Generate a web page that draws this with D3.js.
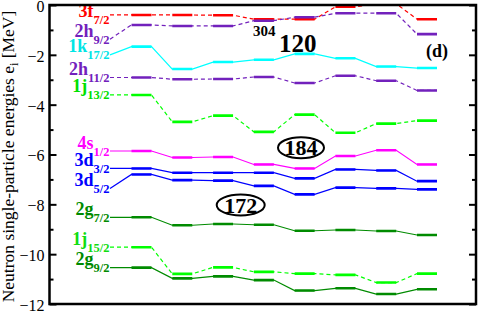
<!DOCTYPE html>
<html>
<head>
<meta charset="utf-8">
<script src="https://cdn.jsdelivr.net/npm/d3@7"></script>
<style>
body { margin: 0; background: #fff; }
svg { display: block; }
text { font-family: "Liberation Serif", "Times New Roman", serif; }
</style>
</head>
<body>
<div id="chart"></div>
<script>
var width = 480,
    height = 312;

// calculation columns (no x labels in the figure)
var columns = [1, 2, 3, 4, 5, 6, 7, 8];

// orbital labels
var orbitals = ['3f', '2h', '1k', '2h', '1j', '4s', '3d', '3d', '2g', '1j', '2g'];
var spins = ['7/2', '9/2', '17/2', '11/2', '13/2', '1/2', '3/2', '5/2', '7/2', '15/2', '9/2'];
// energy where each label's connector starts
var labelEnergies = [-0.40, -1.37, -2.00, -2.91, -3.61, -5.86, -6.56, -7.36, -8.52, -9.72, -10.54];

// single-particle energies (MeV), one value per column
var e3f7 = [-0.40, -0.40, -0.41, -0.57, -0.57, -0.07, 0.05, -0.57];
var e2h9 = [-0.80, -0.84, -0.84, -0.63, -0.49, -0.33, -0.33, -1.17];
var e1k17 = [-1.67, -2.57, -2.29, -2.20, -1.96, -2.14, -2.47, -2.53];
var e2h11 = [-2.91, -2.98, -2.97, -2.89, -3.13, -2.84, -3.04, -3.43];
var e1j13 = [-3.61, -4.69, -4.44, -5.09, -4.40, -5.13, -4.76, -4.64];
var e4s1 = [-5.86, -6.12, -6.10, -6.40, -6.56, -6.06, -5.83, -6.40];
var e3d3 = [-6.56, -6.73, -6.73, -6.73, -6.96, -6.60, -6.64, -7.07];
var e3d5 = [-6.80, -7.03, -7.05, -7.26, -7.60, -7.33, -7.36, -7.40];
var e2g7 = [-8.52, -8.84, -8.79, -8.82, -9.06, -9.03, -9.07, -9.23];
var e1j15 = [-9.72, -10.79, -10.53, -10.71, -10.78, -10.83, -11.14, -10.78];
var e2g9 = [-10.54, -10.97, -10.89, -11.04, -11.46, -11.37, -11.60, -11.41];

var levels = [e3f7, e2h9, e1k17, e2h11, e1j13, e4s1, e3d3, e3d5, e2g7, e1j15, e2g9];

var yTicks = [-12, -10, -8, -6, -4, -2, 0];
var yMinor = [-11, -9, -7, -5, -3, -1];

// styles
var colors = ['#ff0000', '#7221bc', '#00ffff', '#7221bc', '#00ff00', '#ff00ff',
              '#0000ff', '#0000ff', '#008b00', '#00ff00', '#008b00'];
var textColors = ['#ff0000', '#7221bc', '#00e5e5', '#7221bc', '#00e000', '#ff00ff',
                  '#0000ff', '#0000ff', '#008b00', '#10dd10', '#008b00'];
var dashed = [true, true, false, true, true, false, false, false, false, true, false];
var textNudge = [5, 0, 0, 0, 0, 0, 0, 0, 0, 0, 0];

var plotLeft = 49.5, plotRight = 476, plotTop = 5, plotBottom = 304;
var half = 10;   // half width of a level bar
var labelEnd = 110;

var x = d3.scaleLinear().domain([1, 8]).range([141.5, 427]);
var y = d3.scaleLinear().domain([-12, 0]).range([plotBottom, plotTop]);

var svg = d3.select('#chart').append('svg')
    .attr('width', width)
    .attr('height', height);

svg.append('clipPath').attr('id', 'plot-clip')
    .append('rect')
    .attr('x', plotLeft).attr('y', plotTop)
    .attr('width', plotRight - plotLeft).attr('height', plotBottom - plotTop);

var plot = svg.append('g').attr('clip-path', 'url(#plot-clip)');

levels.forEach(function(level, i) {
    var pts = [[labelEnd, y(labelEnergies[i])]];
    columns.forEach(function(c, j) {
        pts.push([x(c) - half, y(level[j])]);
        pts.push([x(c) + half, y(level[j])]);
    });

    plot.append('path')
        .attr('d', d3.line()(pts))
        .attr('fill', 'none')
        .attr('stroke', colors[i])
        .attr('stroke-width', 1.2)
        .attr('stroke-dasharray', dashed[i] ? '4,3' : null);

    plot.selectAll('.bar-' + i)
        .data(columns)
        .enter()
        .append('line')
        .attr('class', 'bar-' + i)
        .attr('x1', function(c) { return x(c) - half; })
        .attr('x2', function(c) { return x(c) + half; })
        .attr('y1', function(c, j) { return y(level[j]); })
        .attr('y2', function(c, j) { return y(level[j]); })
        .attr('stroke', colors[i])
        .attr('stroke-width', 2.6);
});

// orbital labels
levels.forEach(function(level, i) {
    var t = svg.append('text')
        .attr('x', labelEnd - 0.5)
        .attr('y', y(labelEnergies[i]) - 2.5 + textNudge[i])
        .attr('text-anchor', 'end')
        .attr('font-weight', 'bold')
        .attr('fill', textColors[i]);
    t.append('tspan').attr('font-size', 18).text(orbitals[i]);
    t.append('tspan').attr('font-size', 12.5).attr('dy', 7).text(spins[i]);
});

// axes
var gl = svg.append('g').attr('transform', 'translate(' + plotLeft + ',0)');
gl.call(d3.axisLeft(y).tickValues(yTicks).tickSize(-7).tickSizeOuter(0).tickPadding(5)
    .tickFormat(d3.format('d')));
gl.append('g').call(d3.axisLeft(y).tickValues(yMinor).tickSize(-4).tickSizeOuter(0).tickFormat(''));

var gr = svg.append('g').attr('transform', 'translate(' + plotRight + ',0)');
gr.call(d3.axisRight(y).tickValues(yTicks).tickSize(-7).tickSizeOuter(0).tickFormat(''));
gr.append('g').call(d3.axisRight(y).tickValues(yMinor).tickSize(-4).tickSizeOuter(0).tickFormat(''));

svg.selectAll('.domain').remove();
svg.selectAll('.tick line').attr('stroke', '#000').attr('stroke-width', 2);
gl.selectAll('.tick text')
    .attr('font-size', 16)
    .attr('dy', '0.4em')
    .attr('font-family', '"Liberation Serif", serif')
    .attr('fill', '#000');

svg.append('rect')
    .attr('x', plotLeft).attr('y', plotTop)
    .attr('width', plotRight - plotLeft).attr('height', plotBottom - plotTop)
    .attr('fill', 'none')
    .attr('stroke', '#000')
    .attr('stroke-width', 2.5);

// y title
var title = svg.append('text')
    .attr('transform', 'translate(13.5,' + ((plotTop + plotBottom) / 2 + 2) + ') rotate(-90)')
    .attr('text-anchor', 'middle')
    .attr('font-size', 17.5)
    .attr('fill', '#000');
title.append('tspan').text('Neutron single-particle energies e');
title.append('tspan').attr('font-size', 12).attr('dy', 4).text('i');
title.append('tspan').attr('dy', -4).text(' [MeV]');

// annotations
svg.append('text').attr('x', 253).attr('y', 36)
    .attr('font-size', 15).attr('font-weight', 'bold').text('304');
svg.append('text').attr('x', 279).attr('y', 52)
    .attr('font-size', 25).attr('font-weight', 'bold').text('120');
svg.append('text').attr('x', 426).attr('y', 57)
    .attr('font-size', 18).attr('font-weight', 'bold').text('(d)');

var magic = [{ label: '184', cx: 301, cy: 147.7, rx: 23, ry: 10.5 },
             { label: '172', cx: 240.7, cy: 205, rx: 24, ry: 10.5 }];
magic.forEach(function(m) {
    svg.append('ellipse')
        .attr('cx', m.cx).attr('cy', m.cy).attr('rx', m.rx).attr('ry', m.ry)
        .attr('fill', 'none').attr('stroke', '#000').attr('stroke-width', 2);
    svg.append('text')
        .attr('x', m.cx).attr('y', m.cy + 7.5)
        .attr('text-anchor', 'middle')
        .attr('font-size', 22).attr('font-weight', 'bold')
        .text(m.label);
});
</script>
</body>
</html>
